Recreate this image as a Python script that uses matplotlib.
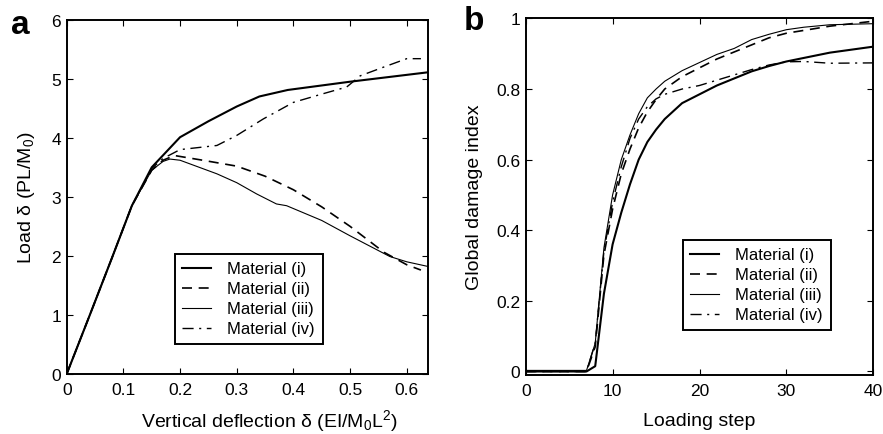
import matplotlib
matplotlib.use("Agg")
import matplotlib.pyplot as plt
from matplotlib.ticker import FixedLocator, FixedFormatter

plt.rcParams['font.family'] = ['Liberation Sans', 'DejaVu Sans']
plt.rcParams['mathtext.fontset'] = 'custom'
plt.rcParams['mathtext.rm'] = 'Liberation Sans'
plt.rcParams['mathtext.default'] = 'regular'

# ---------------- Panel a data ----------------
defl_i = [0, 0.04, 0.08, 0.115, 0.15, 0.2, 0.25, 0.3, 0.34, 0.39, 0.5, 0.638]
load_i = [0, 0.98, 1.97, 2.85, 3.5, 4.01, 4.28, 4.53, 4.70, 4.81, 4.95, 5.11]

defl_ii = [0, 0.04, 0.08, 0.115, 0.15, 0.17, 0.19, 0.24, 0.3, 0.35, 0.4, 0.45, 0.5, 0.56, 0.6, 0.625]
load_ii = [0, 0.98, 1.97, 2.85, 3.45, 3.62, 3.70, 3.62, 3.52, 3.35, 3.12, 2.83, 2.50, 2.06, 1.85, 1.76]

defl_iii = [0, 0.04, 0.08, 0.115, 0.15, 0.17, 0.182, 0.2, 0.265, 0.3, 0.335, 0.37, 0.388, 0.45, 0.5, 0.57, 0.6, 0.638]
load_iii = [0, 0.98, 1.97, 2.85, 3.45, 3.60, 3.64, 3.62, 3.39, 3.24, 3.05, 2.88, 2.85, 2.60, 2.34, 1.99, 1.90, 1.82]

defl_iv = [0, 0.04, 0.08, 0.115, 0.15, 0.17, 0.2, 0.265, 0.3, 0.347, 0.4, 0.45, 0.494, 0.518, 0.56, 0.6, 0.625]
load_iv = [0, 0.98, 1.97, 2.85, 3.48, 3.65, 3.80, 3.87, 4.04, 4.32, 4.60, 4.74, 4.86, 5.05, 5.20, 5.34, 5.34]

xticks_a = [0, 0.1, 0.2, 0.3, 0.4, 0.5, 0.6]
xticklabels_a = ['0', '0.1', '0.2', '0.3', '0.4', '0.5', '0.6']
yticks_a = [0, 1, 2, 3, 4, 5, 6]
yticklabels_a = ['0', '1', '2', '3', '4', '5', '6']

# ---------------- Panel b data ----------------
steps = [0, 7, 8, 9, 10, 11, 12, 13, 14, 15, 16, 18, 20, 22, 24, 26, 28, 30, 32, 35, 40]
dmg_i = [0, 0, 0.015, 0.22, 0.36, 0.45, 0.53, 0.60, 0.65, 0.685, 0.715, 0.76, 0.785, 0.81, 0.83, 0.85, 0.865, 0.878, 0.888, 0.903, 0.92]
dmg_ii = [0, 0, 0.07, 0.33, 0.46, 0.56, 0.63, 0.69, 0.735, 0.77, 0.80, 0.835, 0.86, 0.885, 0.905, 0.925, 0.945, 0.958, 0.966, 0.978, 0.992]
dmg_iii = [0.003, 0.003, 0.08, 0.35, 0.50, 0.60, 0.67, 0.73, 0.775, 0.80, 0.822, 0.852, 0.875, 0.898, 0.915, 0.94, 0.955, 0.968, 0.975, 0.982, 0.985]
dmg_iv = [0, 0, 0.08, 0.34, 0.48, 0.58, 0.66, 0.715, 0.75, 0.772, 0.785, 0.80, 0.81, 0.825, 0.84, 0.855, 0.868, 0.877, 0.878, 0.873, 0.874]

xticks_b = [0, 10, 20, 30, 40]
xticklabels_b = ['0', '10', '20', '30', '40']
yticks_b = [0, 0.2, 0.4, 0.6, 0.8, 1.0]
yticklabels_b = ['0', '0.2', '0.4', '0.6', '0.8', '1']

labels = ['Material (i)', 'Material (ii)', 'Material (iii)', 'Material (iv)']

fig = plt.figure(figsize=(8.83, 4.35), dpi=100)
ax1 = fig.add_axes([66.7/883, 1-375/435, (428.3-66.7)/883, (375-20.7)/435])
ax2 = fig.add_axes([525.7/883, 1-376/435, (873.3-525.7)/883, (376-19.4)/435])

styles = [dict(color='black', lw=1.5, ls='-'),
          dict(color='black', lw=1.2, ls=(0, (6, 4))),
          dict(color='black', lw=0.8, ls='-'),
          dict(color='black', lw=1.0, ls=(0, (8, 4, 1.5, 4)))]

for x, y, st, lab in zip([defl_i, defl_ii, defl_iii, defl_iv],
                         [load_i, load_ii, load_iii, load_iv], styles, labels):
    ax1.plot(x, y, label=lab, **st)
for y, st, lab in zip([dmg_i, dmg_ii, dmg_iii, dmg_iv], styles, labels):
    ax2.plot(steps, y, label=lab, **st)

ax1.set_xlim(0, 0.638)
ax1.set_ylim(0, 6)
ax2.set_xlim(0, 40)
ax2.set_ylim(-0.01, 1.0)

for ax, xt, xtl, yt, ytl in [(ax1, xticks_a, xticklabels_a, yticks_a, yticklabels_a),
                              (ax2, xticks_b, xticklabels_b, yticks_b, yticklabels_b)]:
    ax.xaxis.set_major_locator(FixedLocator(xt))
    ax.xaxis.set_major_formatter(FixedFormatter(xtl))
    ax.yaxis.set_major_locator(FixedLocator(yt))
    ax.yaxis.set_major_formatter(FixedFormatter(ytl))
    ax.tick_params(direction='in', length=4, width=0.8, top=True, right=True,
                   labelsize=12.5, colors='black')
    ax.tick_params(axis='x', pad=6)
    ax.tick_params(axis='y', pad=4)
    for sp in ax.spines.values():
        sp.set_linewidth(1.4)
        sp.set_color('black')

ax1.set_xlabel(r'Vertical deflection δ (EI/M$_0$L$^2$)', fontsize=14)
ax1.set_ylabel(r'Load δ (PL/M$_0$)', fontsize=14)
ax1.xaxis.set_label_coords(0.56, -0.094)
ax1.yaxis.set_label_coords(-0.082, 0.5)

ax2.set_xlabel('Loading step', fontsize=14)
ax2.set_ylabel('Global damage index', fontsize=14)
ax2.xaxis.set_label_coords(0.5, -0.103)
ax2.yaxis.set_label_coords(-0.122, 0.5)

legkw = dict(loc='upper left', borderaxespad=0, fontsize=12, handlelength=1.7,
             handletextpad=1.0, labelspacing=0.3, borderpad=0.45, fancybox=False,
             edgecolor='black', framealpha=1)
leg1 = ax1.legend(bbox_to_anchor=(0.2995, 0.3387), **legkw)
leg2 = ax2.legend(bbox_to_anchor=(0.4525, 0.3786), **legkw)
for leg in (leg1, leg2):
    leg.get_frame().set_linewidth(1.4)

fig.text(11/883, 1-25/435, 'a', fontsize=24, fontweight='bold', va='center', ha='left')
fig.text(464/883, 1-22/435, 'b', fontsize=24, fontweight='bold', va='center', ha='left')

fig.savefig('out.png', dpi=100)
